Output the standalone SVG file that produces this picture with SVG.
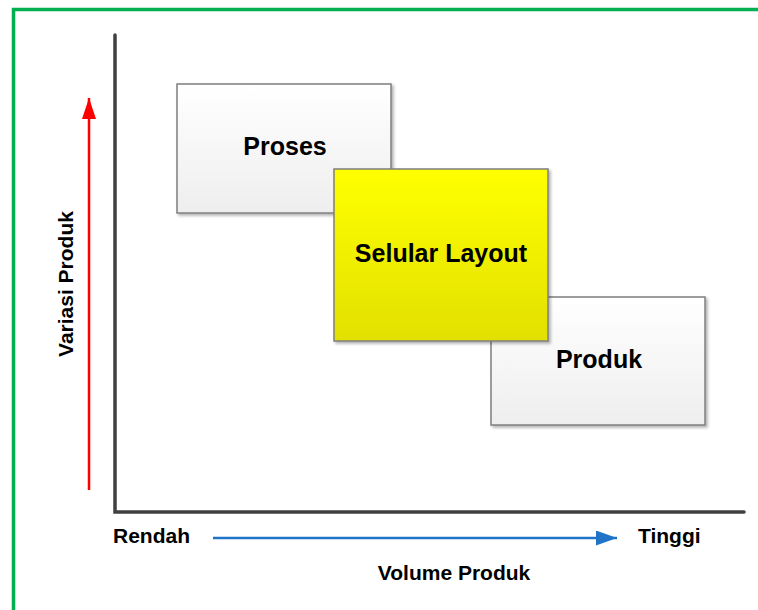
<svg xmlns="http://www.w3.org/2000/svg" width="758" height="610" viewBox="0 0 758 610">
<style>
.box{stroke:#7f7f7f;stroke-width:1.5}
.t{font-family:"Liberation Sans",Arial,sans-serif;font-weight:bold;fill:#000}
.big{font-size:25px}
.lbl{font-size:21px}
.axis{stroke:#404040;stroke-width:3.5;fill:none;stroke-linecap:round}
</style>
<defs>
<linearGradient id="gw" x1="0" y1="0" x2="0" y2="1"><stop offset="0" stop-color="#ffffff"/><stop offset="1" stop-color="#eeeeee"/></linearGradient>
<linearGradient id="gy" x1="0" y1="0" x2="0" y2="1"><stop offset="0" stop-color="#ffff00"/><stop offset="1" stop-color="#e2e000"/></linearGradient>
<filter id="sh" x="-10%" y="-10%" width="130%" height="130%"><feDropShadow dx="2" dy="2" stdDeviation="1.5" flood-color="#000" flood-opacity="0.3"/></filter>
<marker id="ar" markerWidth="21" markerHeight="14" refX="21" refY="7" orient="auto" markerUnits="userSpaceOnUse" viewBox="0 0 21 14"><path d="M0,0 L21,7 L0,14 z" fill="#ff0000"/></marker>
<marker id="ab" markerWidth="21" markerHeight="15" refX="21" refY="7.5" orient="auto" markerUnits="userSpaceOnUse" viewBox="0 0 21 15"><path d="M0,0 L21,7.5 L0,15 z" fill="#1f74c8"/></marker>
</defs>
<rect x="0" y="0" width="758" height="610" fill="#fff"/>
<path d="M13.5,612 V9.5 H760" fill="none" stroke="#00b050" stroke-width="3.5"/>
<g id="axes">
<path class="axis" d="M115,35 V512 H744"/>
</g>
<g id="connectors">
<line x1="89" y1="490" x2="89" y2="98" stroke="#ff0000" stroke-width="2.5" marker-end="url(#ar)"/>
<line x1="213" y1="538" x2="617" y2="538" stroke="#1f74c8" stroke-width="2.5" marker-end="url(#ab)"/>
</g>
<g id="proses">
<rect class="box" x="177" y="84" width="214" height="129" fill="url(#gw)" filter="url(#sh)"/>
<text class="t big" x="285" y="155" text-anchor="middle">Proses</text>
</g>
<g id="produk">
<rect class="box" x="491" y="297" width="214" height="128" fill="url(#gw)" filter="url(#sh)"/>
<text class="t big" x="599" y="368" text-anchor="middle">Produk</text>
</g>
<g id="selular">
<rect class="box" x="334" y="169" width="214" height="172" fill="url(#gy)" filter="url(#sh)"/>
<text class="t big" x="441" y="262" text-anchor="middle">Selular Layout</text>
</g>
<g id="labels">
<text class="t lbl" x="113" y="543">Rendah</text>
<text class="t lbl" x="638" y="543">Tinggi</text>
<text class="t lbl" x="454" y="580" text-anchor="middle">Volume Produk</text>
<text class="t lbl" transform="translate(73,284) rotate(-90)" text-anchor="middle">Variasi Produk</text>
</g>
</svg>
